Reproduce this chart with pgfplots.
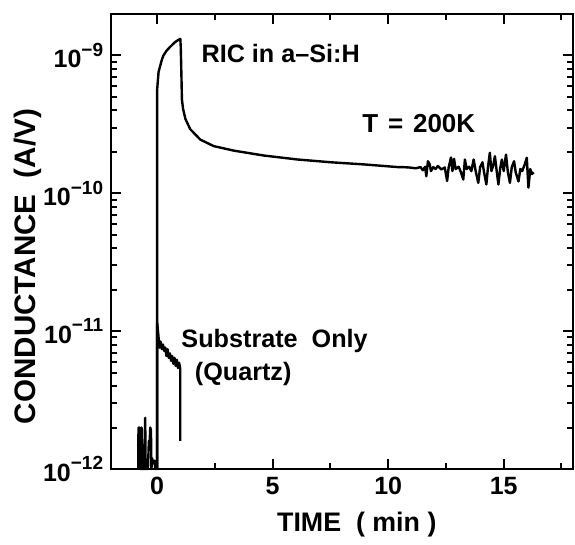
\documentclass[border=0pt]{standalone}
\usepackage{fontspec}
\setmainfont{Liberation Sans}
\usepackage{pgfplots}
\pgfplotsset{compat=1.18}

% 10^{-n} in bold text font
\newcommand{\dec}[1]{\textbf{10}\raisebox{5.6pt}{\fontsize{9.5}{10}\selectfont\bfseries −#1}}

\begin{document}
\begin{tikzpicture}
\begin{axis}[
    scale only axis,
    width=231pt, height=227.5pt,
    ymode=log,
    xmin=-2, xmax=18,
    ymin=1e-12, ymax=2e-9,
    clip=false,
    unbounded coords=jump,
    xtick={0,5,10,15}, xticklabels={0,5,10,15},
    minor xtick={2.5,7.5,12.5,17.5},
    ytick={1e-12,1e-11,1e-10,1e-9},
    yticklabels={\dec{12},\dec{11},\dec{10},\dec{9}},
    line width=1.2pt,
    tick style={draw=black, line width=1pt},
    major tick length=5pt, minor tick length=3pt,
    tick label style={font=\bfseries\fontsize{12.5}{14}\selectfont},
    xlabel={TIME\ \ ( min )},
    ylabel={CONDUCTANCE\ \ (A/V)},
    xlabel style={at={(axis description cs:0.532,-0.138)}, anchor=base,
        font=\bfseries\fontsize{13.4}{15}\selectfont},
    ylabel style={at={(axis description cs:-0.180,0.445)}, anchor=center,
        font=\bfseries\fontsize{14.8}{16}\selectfont},
]
% a-Si:H with the noise before t = 0
\addplot[black, line width=1.2pt, line join=round] coordinates {
    (-0.82,1e-12) (-0.81,2.0e-12) (-0.78,1.8e-12) (-0.76,2.0e-12) (-0.75,1e-12)
    (-0.70,1e-12) (-0.68,2.0e-12) (-0.66,1.9e-12) (-0.64,1e-12)
    (-0.54,1e-12) (-0.52,2.35e-12) (-0.50,1e-12)
    (-0.40,1e-12) (-0.36,1.6e-12) (-0.33,1.5e-12) (-0.30,2.0e-12) (-0.27,1.9e-12) (-0.25,1e-12)
    (-0.22,1.2e-12) (-0.18,1.1e-12) (-0.12,1.15e-12) (-0.08,1e-12) (0.0,1e-12)
    (0.0,5.7e-10) (0.03,6.6e-10) (0.06,7.6e-10) (0.13,8.4e-10) (0.2,9.3e-10)
    (0.27,1.0e-9) (0.4,1.08e-9) (0.57,1.16e-9) (0.75,1.24e-9) (0.86,1.28e-9) (1.0,1.32e-9)
    (1.02,1.15e-9) (1.05,7.0e-10) (1.07,4.8e-10) (1.12,4.1e-10) (1.22,3.47e-10)
    (1.43,2.92e-10) (1.87,2.45e-10) (2.45,2.20e-10) (3.32,2.04e-10) (4.62,1.88e-10)
    (6.07,1.76e-10) (7.52,1.68e-10) (8.97,1.62e-10) (10.42,1.55e-10)
    (10.6,1.55e-10) (10.9,1.54e-10) (11.2,1.52e-10) (11.4,1.55e-10) (11.5,1.47e-10)
    (11.6,1.56e-10) (11.65,1.33e-10) (11.72,1.71e-10) (11.8,1.62e-10) (11.85,1.45e-10)
    (11.95,1.55e-10) (12.05,1.5e-10) (12.15,1.58e-10) (12.3,1.49e-10) (12.45,1.54e-10)
    (12.55,1.23e-10) (12.62,1.55e-10) (12.72,1.82e-10) (12.78,1.45e-10) (12.85,1.78e-10)
    (12.92,1.5e-10) (13.05,1.56e-10) (13.15,1.42e-10) (13.25,1.26e-10) (13.32,1.76e-10)
    (13.4,1.5e-10) (13.5,1.56e-10) (13.6,1.45e-10) (13.7,1.76e-10) (13.78,1.47e-10)
    (13.9,1.19e-10) (13.98,1.55e-10) (14.08,1.68e-10) (14.15,1.42e-10) (14.25,1.16e-10)
    (14.32,1.55e-10) (14.4,1.97e-10) (14.47,1.45e-10) (14.55,1.6e-10) (14.62,1.86e-10)
    (14.7,1.44e-10) (14.77,1.16e-10) (14.85,1.52e-10) (14.92,1.76e-10) (15.0,1.45e-10)
    (15.1,1.91e-10) (15.18,1.43e-10) (15.27,1.19e-10) (15.35,1.55e-10) (15.45,1.71e-10)
    (15.52,1.42e-10) (15.64,1.22e-10) (15.72,1.5e-10) (15.8,1.45e-10) (15.9,1.6e-10)
    (16.0,1.81e-10) (16.07,1.1e-10) (16.15,1.5e-10) (16.22,1.38e-10) (16.3,1.42e-10)
};
% substrate only (quartz)
\addplot[black, line width=1.2pt, line join=round] coordinates {
    (0.0,1e-12) (0.0,1.15e-11) (0.06,9.0e-12) (0.1,7.6e-12) (0.15,8.4e-12)
    (0.2,7.4e-12) (0.25,8.0e-12) (0.3,7.2e-12) (0.35,7.6e-12) (0.4,6.6e-12)
    (0.45,7.4e-12) (0.5,6.4e-12) (0.55,6.9e-12) (0.6,6.1e-12) (0.65,6.6e-12)
    (0.7,5.8e-12) (0.75,6.4e-12) (0.8,5.6e-12) (0.85,6.2e-12) (0.9,5.4e-12)
    (0.95,5.9e-12) (1.0,5.3e-12) (1.0,1.6e-12)
};
% tick marks on the four sides as short segments (5pt major, 3pt minor)
\addplot[black, line width=1pt, line cap=butt] coordinates {
    (0,1e-12) (0,1.182e-12) (nan,nan) (5,1e-12) (5,1.182e-12) (nan,nan)
    (10,1e-12) (10,1.182e-12) (nan,nan) (15,1e-12) (15,1.182e-12) (nan,nan)
    (0,2e-9) (0,1.692e-9) (nan,nan) (5,2e-9) (5,1.692e-9) (nan,nan)
    (10,2e-9) (10,1.692e-9) (nan,nan) (15,2e-9) (15,1.692e-9) (nan,nan)
    (2.5,1e-12) (2.5,1.105e-12) (nan,nan) (7.5,1e-12) (7.5,1.105e-12) (nan,nan)
    (12.5,1e-12) (12.5,1.105e-12) (nan,nan) (17.5,1e-12) (17.5,1.105e-12) (nan,nan)
    (2.5,2e-9) (2.5,1.81e-9) (nan,nan) (7.5,2e-9) (7.5,1.81e-9) (nan,nan)
    (12.5,2e-9) (12.5,1.81e-9) (nan,nan) (17.5,2e-9) (17.5,1.81e-9) (nan,nan)
};
\addplot[black, line width=1pt, line cap=butt] coordinates {
    (-2,1e-11) (-1.567,1e-11) (nan,nan) (-2,1e-10) (-1.567,1e-10) (nan,nan)
    (-2,1e-9) (-1.567,1e-9) (nan,nan)
    (18,1e-11) (17.567,1e-11) (nan,nan) (18,1e-10) (17.567,1e-10) (nan,nan)
    (18,1e-9) (17.567,1e-9) (nan,nan)
    (-2,2e-12) (-1.74,2e-12) (nan,nan) (-2,3e-12) (-1.74,3e-12) (nan,nan)
    (-2,4e-12) (-1.74,4e-12) (nan,nan) (-2,5e-12) (-1.74,5e-12) (nan,nan)
    (-2,6e-12) (-1.74,6e-12) (nan,nan) (-2,7e-12) (-1.74,7e-12) (nan,nan)
    (-2,8e-12) (-1.74,8e-12) (nan,nan) (-2,9e-12) (-1.74,9e-12) (nan,nan)
    (-2,2e-11) (-1.74,2e-11) (nan,nan) (-2,3e-11) (-1.74,3e-11) (nan,nan)
    (-2,4e-11) (-1.74,4e-11) (nan,nan) (-2,5e-11) (-1.74,5e-11) (nan,nan)
    (-2,6e-11) (-1.74,6e-11) (nan,nan) (-2,7e-11) (-1.74,7e-11) (nan,nan)
    (-2,8e-11) (-1.74,8e-11) (nan,nan) (-2,9e-11) (-1.74,9e-11) (nan,nan)
    (-2,2e-10) (-1.74,2e-10) (nan,nan) (-2,3e-10) (-1.74,3e-10) (nan,nan)
    (-2,4e-10) (-1.74,4e-10) (nan,nan) (-2,5e-10) (-1.74,5e-10) (nan,nan)
    (-2,6e-10) (-1.74,6e-10) (nan,nan) (-2,7e-10) (-1.74,7e-10) (nan,nan)
    (-2,8e-10) (-1.74,8e-10) (nan,nan) (-2,9e-10) (-1.74,9e-10) (nan,nan)
    (18,2e-12) (17.74,2e-12) (nan,nan) (18,3e-12) (17.74,3e-12) (nan,nan)
    (18,4e-12) (17.74,4e-12) (nan,nan) (18,5e-12) (17.74,5e-12) (nan,nan)
    (18,6e-12) (17.74,6e-12) (nan,nan) (18,7e-12) (17.74,7e-12) (nan,nan)
    (18,8e-12) (17.74,8e-12) (nan,nan) (18,9e-12) (17.74,9e-12) (nan,nan)
    (18,2e-11) (17.74,2e-11) (nan,nan) (18,3e-11) (17.74,3e-11) (nan,nan)
    (18,4e-11) (17.74,4e-11) (nan,nan) (18,5e-11) (17.74,5e-11) (nan,nan)
    (18,6e-11) (17.74,6e-11) (nan,nan) (18,7e-11) (17.74,7e-11) (nan,nan)
    (18,8e-11) (17.74,8e-11) (nan,nan) (18,9e-11) (17.74,9e-11) (nan,nan)
    (18,2e-10) (17.74,2e-10) (nan,nan) (18,3e-10) (17.74,3e-10) (nan,nan)
    (18,4e-10) (17.74,4e-10) (nan,nan) (18,5e-10) (17.74,5e-10) (nan,nan)
    (18,6e-10) (17.74,6e-10) (nan,nan) (18,7e-10) (17.74,7e-10) (nan,nan)
    (18,8e-10) (17.74,8e-10) (nan,nan) (18,9e-10) (17.74,9e-10) (nan,nan)
};
\node[anchor=base west, inner sep=0pt, font=\bfseries\fontsize{12.6}{14}\selectfont]
    at (axis cs:1.87,8.95e-10) {RIC in a–Si:H};
\node[anchor=base west, inner sep=0pt, font=\bfseries\fontsize{13}{14}\selectfont]
    at (axis cs:8.83,2.76e-10) {T\hspace{1.3pt} = \hspace{1.3pt}200K};
\node[anchor=base west, inner sep=0pt, font=\bfseries\fontsize{12.6}{14}\selectfont]
    at (axis cs:1.0,7.64e-12) {Substrate\ \ Only};
\node[anchor=base west, inner sep=0pt, font=\bfseries\fontsize{12.6}{14}\selectfont]
    at (axis cs:1.58,4.37e-12) {(Quartz)};
\end{axis}
\path (-55.5pt,-33.5pt) rectangle (232pt,234.5pt);
\end{tikzpicture}
\end{document}
